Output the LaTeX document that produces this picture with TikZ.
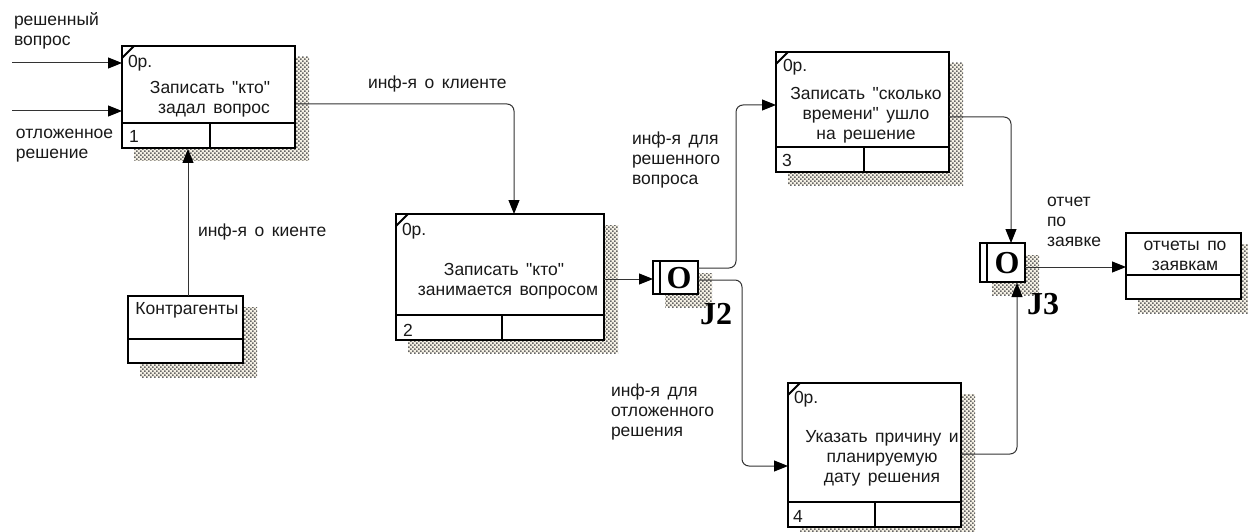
\documentclass[tikz,border=0pt]{standalone}
\usepackage{fontspec}
\setmainfont{Liberation Sans}[Ligatures=TeXOff]
\newfontfamily\jfont{Liberation Serif}
\usetikzlibrary{patterns,arrows.meta}
\definecolor{shbg}{RGB}{244,240,228}
\definecolor{shfg}{RGB}{100,100,100}
\pgfdeclarepatternformonly{idefdots}{\pgfqpoint{-0.5pt}{-0.5pt}}{\pgfqpoint{3.5pt}{3.5pt}}{\pgfqpoint{4pt}{4pt}}{
  \pgfpathrectangle{\pgfqpoint{0pt}{0pt}}{\pgfqpoint{1.7pt}{1.7pt}}
  \pgfpathrectangle{\pgfqpoint{2pt}{2pt}}{\pgfqpoint{1.7pt}{1.7pt}}
  \pgfusepath{fill}}
\newcommand{\txtfont}{\fontsize{17.5}{20}\selectfont\spaceskip=7.5pt}
\tikzset{
  x=1pt,y=-1pt,
  every node/.style={inner sep=0pt,outer sep=0pt},
  boxframe/.style={draw=black,line width=2pt,fill=white,rectangle,anchor=north west},
  shadowfill/.style={fill=shbg,postaction={pattern=idefdots,pattern color=shfg}},
  divider/.style={draw=black,line width=2pt},
  conn/.style={draw=black!80,line width=1pt,-{Triangle[length=14pt,width=11pt,fill=black,color=black]},rounded corners=7pt},
  lbl/.style={font=\txtfont,align=left,anchor=north west,text=black!90},
  boxt/.style={font=\txtfont,align=center,text=black!90},
  onum/.style={font=\txtfont,anchor=base west,text=black!90},
  jlbl/.style={font=\jfont\bfseries\fontsize{32}{32}\selectfont,text=black},
}
\newcommand{\idefbox}[7]{% name x y w h divider-y vertical-x
  \fill[shadowfill] (#2+12,#3+11) rectangle (#2+#4+14,#3+#5+13);
  \node[boxframe,minimum width=#4pt,minimum height=#5pt] (#1) at (#2,#3) {};
  \draw[divider] (#2,#6) -- (#2+#4,#6);
  \draw[divider] (#7,#6) -- (#7,#3+#5);
  \draw[line width=2pt] (#2,#3+12) -- (#2+12,#3);
}
\newcommand{\plainbox}[6]{% name x y w h divider-y
  \fill[shadowfill] (#2+12,#3+11) rectangle (#2+#4+14,#3+#5+14);
  \node[boxframe,minimum width=#4pt,minimum height=#5pt] (#1) at (#2,#3) {};
  \draw[divider] (#2,#6) -- (#2+#4,#6);
}
\newcommand{\junction}[5]{% name x y w h
  \fill[shadowfill] (#2+12,#3+12) rectangle (#2+#4+14,#3+#5+13);
  \node[boxframe,minimum width=#4pt,minimum height=#5pt] (#1) at (#2,#3) {};
  \draw[line width=2pt] (#2+7,#3) -- (#2+7,#3+#5);
}
\begin{document}
\begin{tikzpicture}
\useasboundingbox (0,0) rectangle (1248,532);
\clip (0,0) rectangle (1248,532);
\fill[white] (0,0) rectangle (1248,532);

\idefbox{b1}{122}{46}{173}{102}{123}{210}
\idefbox{b2}{396}{214}{208}{126}{315}{502}
\idefbox{b3}{776}{52}{173}{120}{147}{864}
\idefbox{b4}{788}{383}{173}{144}{502}{875}
\plainbox{kontr}{128}{296}{115}{67}{339}
\plainbox{otch}{1126}{233}{115}{66}{275}
\junction{j2}{653}{261}{45}{33}
\junction{j3}{980}{243}{45}{39}

\node[jlbl] (jo2) at (679,278) {O};
\node[jlbl] (jo3) at (1007,263) {O};
\node[jlbl] (jl2) at (716,314) {J2};
\node[jlbl] (jl3) at (1043,304) {J3};

\node[onum] (o1) at (128,68) {0р.};
\node[onum] (o2) at (402,235) {0р.};
\node[onum] (o3) at (783,72) {0р.};
\node[onum] (o4) at (794,403) {0р.};
\node[onum] (n1) at (129,143) {1};
\node[onum] (n2) at (403,336) {2};
\node[onum] (n3) at (782,167) {3};
\node[onum] (n4) at (793,522) {4};

\node[boxt] (t1) at (210,99) {Записать "кто"\\ \hspace*{8pt}задал вопрос};
\node[boxt] (t2) at (504,281) {Записать "кто"\\ \hspace*{8pt}занимается вопросом};
\node[boxt] (t3) at (866,115) {Записать "сколько\\ времени" ушло\\ на решение};
\node[boxt] (t4) at (882,458) {Указать причину и\\ планируемую\\ дату решения};
\node[boxt,anchor=north] (t5) at (187,302) {Контрагенты};
\node[boxt,anchor=north] (t6) at (1185,241) {отчеты по\\ заявкам};

\node[lbl] (l1) at (14,13) {решенный\\вопрос};
\node[lbl] (l2) at (16,129) {отложенное\\решение};
\node[lbl] (l3) at (198,224) {инф-я о киенте};
\node[lbl] (l4) at (368,76) {инф-я о клиенте};
\node[lbl] (l5) at (632,132) {инф-я для\\решенного\\вопроса};
\node[lbl] (l6) at (611,384) {инф-я для\\отложенного\\решения};
\node[lbl] (l7) at (1047,197) {отчет\\по\\заявке};

\coordinate (in1) at (12,63);
\coordinate (in2) at (12,111);
\coordinate (a1) at (296,104);
\coordinate (a2) at (514,214);
\draw[conn] (in1) -- (b1.west |- in1);
\draw[conn] (in2) -- (b1.west |- in2);
\draw[conn] (188,296) -- (188,149);
\draw[conn] (a1) -- (a1 -| a2) -- (a2);
\draw[conn] (b2.east |- 0,279) -- (j2.west |- 0,279);
\draw[conn] (j2.east |- 0,268) -- (736,268) -- (736,105) -- (b3.west |- 0,105);
\draw[conn] (j2.east |- 0,280) -- (742,280) -- (742,466) -- (b4.west |- 0,466);
\draw[conn] (b3.east |- 0,117) -- (1011,117) -- (1011,243);
\draw[conn] (b4.east |- 0,454) -- (1017,454) -- (1017,283);
\draw[conn] (j3.east |- 0,267) -- (otch.west |- 0,267);
\end{tikzpicture}
\end{document}
